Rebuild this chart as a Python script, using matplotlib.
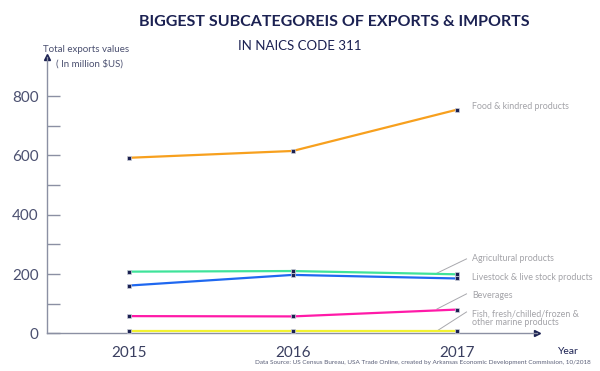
import matplotlib
matplotlib.use("Agg")
import matplotlib.pyplot as plt

plt.rcParams['font.family'] = ['Lato', 'DejaVu Sans']

years = [2015, 2016, 2017]
food = [592, 615, 754]
agricultural = [208, 210, 199]
livestock = [161, 197, 185]
beverages = [58, 57, 80]
fish = [8, 8, 8]

series_names = ["Food & kindred products", "Agricultural products",
                "Livestock & live stock products", "Beverages",
                "Fish, fresh/chilled/frozen &\nother marine products"]
series_values = [food, agricultural, livestock, beverages, fish]
series_colors = ["#f7a01e", "#3fe39a", "#1f68f0", "#ff1aa8", "#f2f230"]

y_ticks = [0, 100, 200, 300, 400, 500, 600, 700, 800]
y_ticklabels = ["0", "", "200", "", "400", "", "600", "", "800"]

NAVY = "#1b2152"
AXIS_GREY = "#8b90a3"
LABEL_GREY = "#a3a3a8"

fig = plt.figure(figsize=(6, 3.71), dpi=100)
ax = fig.add_axes([0.078, 0.1016, 0.817, 0.7448])

for vals, color in zip(series_values, series_colors):
    ax.plot(years, vals, color=color, lw=1.6, zorder=2)
    ax.plot(years, vals, ls="none", marker="s", ms=3.3, color=NAVY,
            markeredgecolor="#cfd2dc", markeredgewidth=0.5, zorder=3)

ax.set_xlim(2014.5, 2017.49)
ax.set_ylim(0, 932)

for side in ["top", "right"]:
    ax.spines[side].set_visible(False)
for side in ["left", "bottom"]:
    ax.spines[side].set_color(AXIS_GREY)
    ax.spines[side].set_linewidth(1.0)

ax.plot(1, 0, ">", transform=ax.transAxes, clip_on=False, color=NAVY, ms=5)
ax.plot(0, 1, "^", transform=ax.transAxes, clip_on=False, color=NAVY, ms=4)

ax.set_yticks(y_ticks)
ax.set_yticklabels(y_ticklabels)
ax.tick_params(axis="y", direction="in", length=9, width=1, color=AXIS_GREY,
               labelsize=11, labelcolor="#4b5070", pad=6)
ax.set_xticks(years)
ax.set_xticklabels([str(y) for y in years])
ax.tick_params(axis="x", length=0, labelsize=11, labelcolor="#3a3f60", pad=9)

# series labels on the right
lab_x = 2017.093
label_y = [764, 254, 187, 129, 52]
for name, y in zip(series_names, label_y):
    ax.text(lab_x, y, name, color=LABEL_GREY, fontsize=6.4,
            va="center", ha="left", linespacing=0.9, clip_on=False)

# leader lines
for y0, y1 in [(203, 251), (82, 133), (8, 72)]:
    ax.plot([2016.88, 2017.06], [y0, y1], color="#a8a8ad", lw=0.7,
            clip_on=False, zorder=1)

fig.text(0.557, 0.94, "BIGGEST SUBCATEGOREIS OF EXPORTS & IMPORTS",
         ha="center", va="center", fontsize=11.5, fontweight="bold", color=NAVY)
fig.text(0.5, 0.876, "IN NAICS CODE 311", ha="center", va="center",
         fontsize=9.5, color=NAVY)

fig.text(0.143, 0.866, "Total exports values", ha="center", va="center",
         fontsize=7, color="#4b5070")
fig.text(0.15, 0.828, "( In million $US)", ha="center", va="center",
         fontsize=7, color="#4b5070")
fig.text(0.948, 0.053, "Year", ha="center", va="center", fontsize=7.5,
         color=NAVY)
fig.text(0.985, 0.022,
         "Data Source: US Census Bureau, USA Trade Online, created by Arkansas Economic Development Commission, 10/2018",
         ha="right", va="center", fontsize=4.6, color="#5a5f78")

fig.savefig("out.png", dpi=100)
